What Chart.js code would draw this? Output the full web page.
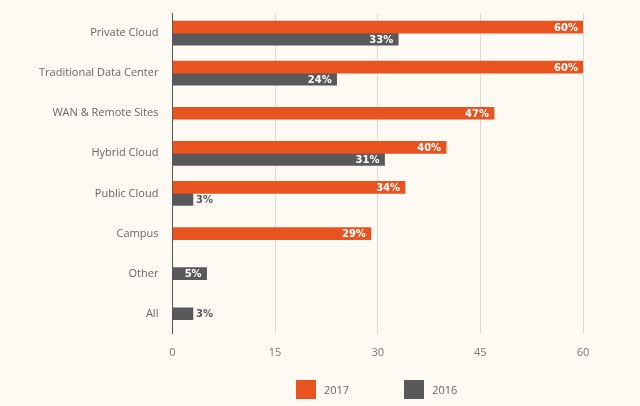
<!DOCTYPE html>
<html lang="en">
<head>
    <meta charset="UTF-8">
    <title>Deployment Locations</title>
    <script src="https://cdn.jsdelivr.net/npm/chart.js"></script>
    <style>
        html, body {
            margin: 0;
            padding: 0;
            background: #fdf9f3;
        }
        .wrap {
            position: relative;
            width: 640px;
            height: 406px;
        }
        .legend {
            position: absolute;
            top: 380px;
            left: 296px;
            display: flex;
            font-family: "Open Sans", sans-serif;
            font-size: 11px;
            color: #666;
        }
        .legend span.item {
            display: flex;
            align-items: center;
            margin-right: 55px;
        }
        .legend span.box {
            display: inline-block;
            width: 20px;
            height: 19px;
            margin-right: 8px;
        }
    </style>
</head>
<body>
<div class="wrap">
    <canvas id="chart" width="640" height="406"></canvas>
    <div class="legend" id="legend"></div>
</div>
<script>
    // categories and values (percent of respondents)
    const categories = ['Private Cloud', 'Traditional Data Center', 'WAN & Remote Sites', 'Hybrid Cloud',
        'Public Cloud', 'Campus', 'Other', 'All'];
    const values2017 = [60, 60, 47, 40, 34, 29, null, null];
    const values2016 = [33, 24, null, 31, 3, null, 5, 3];
    const xTicks = [0, 15, 30, 45, 60];

    const orange = '#e8531f';
    const grey = '#59585b';

    // draws "xx%" at the end of each bar, outside if the bar is too short
    const barLabels = {
        id: 'barLabels',
        afterDatasetsDraw(chart) {
            const ctx = chart.ctx;
            ctx.save();
            ctx.font = 'bold 10px "DejaVu Sans", sans-serif';
            ctx.textBaseline = 'middle';
            chart.data.datasets.forEach((ds, i) => {
                const meta = chart.getDatasetMeta(i);
                meta.data.forEach((bar, j) => {
                    const v = ds.data[j];
                    if (v === null) return;
                    const txt = v + '%';
                    const w = ctx.measureText(txt).width;
                    const len = bar.x - bar.base;
                    if (w + 8 > len) {
                        ctx.fillStyle = '#59585b';
                        ctx.textAlign = 'left';
                        ctx.fillText(txt, bar.x + 3, bar.y + 1);
                    } else {
                        ctx.fillStyle = '#ffffff';
                        ctx.textAlign = 'right';
                        ctx.fillText(txt, bar.x - 5, bar.y + 1);
                    }
                });
            });
            ctx.restore();
        }
    };

    const datasets = [
        { label: '2017', data: values2017, backgroundColor: orange },
        { label: '2016', data: values2016, backgroundColor: grey }
    ];

    new Chart(document.getElementById('chart'), {
        type: 'bar',
        data: {
            labels: categories,
            datasets: datasets
        },
        options: {
            indexAxis: 'y',
            responsive: false,
            animation: false,
            skipNull: true,
            barThickness: 12,
            layout: {
                padding: { left: 25, right: 57, top: 13, bottom: 35 }
            },
            plugins: {
                legend: { display: false },
                tooltip: { enabled: false }
            },
            scales: {
                x: {
                    min: 0,
                    max: 60,
                    afterBuildTicks: (axis) => { axis.ticks = xTicks.map(v => ({ value: v })); },
                    grid: {
                        color: (c) => c.tick && c.tick.value === 0 ? 'rgba(0,0,0,0)' : '#dcd9d4',
                        drawTicks: false
                    },
                    border: { display: false },
                    ticks: {
                        padding: 12,
                        color: '#777',
                        font: { family: 'Open Sans', size: 11 }
                    }
                },
                y: {
                    grid: { display: false, drawTicks: false },
                    border: { display: true, color: '#555', width: 1 },
                    // the tick padding should only push labels sideways
                    afterFit: (axis) => { axis.paddingTop = 0; axis.paddingBottom = 0; },
                    ticks: {
                        padding: 14,
                        color: '#666',
                        font: { family: 'Open Sans', size: 11 }
                    }
                }
            }
        },
        plugins: [barLabels]
    });

    // legend built from the datasets
    const legend = document.getElementById('legend');
    datasets.forEach(ds => {
        const item = document.createElement('span');
        item.className = 'item';
        item.innerHTML = '<span class="box" style="background:' + ds.backgroundColor + '"></span>' + ds.label;
        legend.appendChild(item);
    });
</script>
</body>
</html>
